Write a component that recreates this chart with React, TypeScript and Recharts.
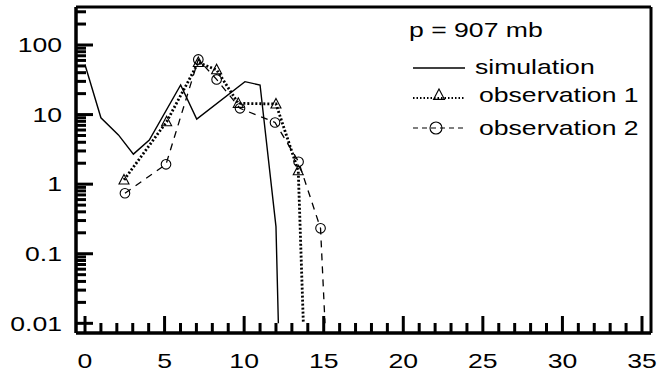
import React from 'react';
import { LineChart, Line, XAxis, YAxis, ReferenceLine } from 'recharts';

// simulation (solid line)
const simX = [0, 1.0, 2.1, 3.04, 4.04, 6.01, 7.02, 10.05, 11.0, 12.0, 12.15];
const simY = [52, 9.0, 5.1, 2.7, 4.3, 26.6, 8.6, 29.7, 26.6, 0.245, 0.01];

// observation 1 (dotted, triangles)
const obs1X = [2.45, 5.13, 7.12, 8.27, 9.63, 12.0, 13.4, 13.72];
const obs1Y = [1.15, 7.9, 56, 44, 14.5, 14.2, 1.56, 0.01];

// observation 2 (dashed, circles)
const obs2X = [2.51, 5.09, 7.12, 8.27, 9.74, 11.94, 13.42, 14.8, 15.08];
const obs2Y = [0.74, 1.93, 62, 32, 12.3, 7.7, 2.1, 0.232, 0.01];

const yMajor = [0.01, 0.1, 1, 10, 100];
const yMajorLabels = ['0.01', '0.1', '1', '10', '100'];
const xMajor = [0, 5, 10, 15, 20, 25, 30, 35];

const X_MIN = -0.566;
const X_MAX = 35.566;
const Y_MIN = 0.00726;
const Y_MAX = 351.6;

const toPts = (xs: number[], ys: number[]) => xs.map((x, i) => ({ x, y: ys[i] }));
const simData = toPts(simX, simY);
const obs1Data = toPts(obs1X, obs1Y);
const obs2Data = toPts(obs2X, obs2Y);

// log ticks 1..9 of each decade (200 is the only one above 100)
const yTicks: number[] = [];
yMajor.forEach((d) => {
  for (let m = 1; m <= 9; m++) {
    const v = +(m * d).toPrecision(3);
    if (v <= Y_MAX) yTicks.push(v);
  }
});
const xTicks = Array.from({ length: 36 }, (_, i) => i);

const FONT = 'Liberation Sans, Arial, sans-serif';
const SX = 1.33;

// the original's lettering is stretched sideways
const SText = ({ x, y, anchor, children }: any) => (
  <text
    transform={`translate(${x},${y}) scale(${SX},1)`}
    textAnchor={anchor}
    fontFamily={FONT}
    fontSize={20}
    fill="#000"
  >
    {children}
  </text>
);

const YTick = (props: any) => {
  const { x, y, payload } = props;
  const idx = yMajor.findIndex((v) => Math.abs(v - payload.value) < v * 1e-6);
  const major = idx >= 0;
  return (
    <g>
      <line x1={x} y1={y} x2={x + (major ? 17 : 10)} y2={y} stroke="#000" strokeWidth={3} />
      {major && (
        <SText x={x - 14} y={y + 7.3} anchor="end">
          {yMajorLabels[idx]}
        </SText>
      )}
    </g>
  );
};

const XTick = (props: any) => {
  const { x, y, payload } = props;
  const major = xMajor.includes(payload.value);
  return (
    <g>
      <line x1={x} y1={y} x2={x} y2={y - (major ? 17 : 10)} stroke="#000" strokeWidth={3} />
      {major && (
        <SText x={x} y={y + 34.5} anchor="middle">
          {String(payload.value)}
        </SText>
      )}
    </g>
  );
};

const triPath = (cx: number, cy: number, s: number) =>
  `M${cx},${cy - s * 1.1} L${cx + s},${cy + s * 0.8} L${cx - s},${cy + s * 0.8} Z`;

const TriDot = (props: any) => {
  const { cx, cy, index } = props;
  if (cx == null || cy == null || index === obs1X.length - 1) return <g key={`t${index}`} />;
  return <path key={`t${index}`} d={triPath(cx, cy, 5)} fill="none" stroke="#000" strokeWidth={1.1} />;
};

const CircDot = (props: any) => {
  const { cx, cy, index } = props;
  if (cx == null || cy == null || index === obs2X.length - 1) return <g key={`c${index}`} />;
  return <circle key={`c${index}`} cx={cx} cy={cy} r={4.8} fill="none" stroke="#000" strokeWidth={1.1} />;
};

const LegendBox = () => (
  <svg width={659} height={371} style={{ position: 'absolute', left: 0, top: 0, pointerEvents: 'none' }}>
    <SText x={409} y={37} anchor="start">p = 907 mb</SText>
    <line x1={413} y1={68} x2={465} y2={68} stroke="#000" strokeWidth={1.3} />
    <SText x={475} y={74} anchor="start">simulation</SText>
    <line x1={413} y1={98} x2={465} y2={98} stroke="#000" strokeWidth={2.2} strokeDasharray="1.5 2" />
    <path d={triPath(439, 95, 5.5)} fill="none" stroke="#000" strokeWidth={1.1} />
    <SText x={479} y={102} anchor="start">observation 1</SText>
    <line x1={413} y1={128} x2={465} y2={128} stroke="#000" strokeWidth={1.2} strokeDasharray="5 4" />
    <circle cx={436} cy={128} r={6} fill="none" stroke="#000" strokeWidth={1.1} />
    <SText x={479} y={135} anchor="start">observation 2</SText>
  </svg>
);

export default function App() {
  return (
    <div style={{ position: 'absolute', left: 0, top: 0, width: 659, height: 371, background: '#fff' }}>
      <LineChart width={659} height={371} margin={{ top: 7, right: 8, left: 0, bottom: 0 }}>
        <XAxis
          dataKey="x"
          type="number"
          domain={[X_MIN, X_MAX]}
          allowDataOverflow
          ticks={xTicks}
          interval={0}
          tickSize={0}
          tickMargin={0}
          tickLine={false}
          tick={<XTick />}
          height={38}
          axisLine={{ stroke: '#000', strokeWidth: 3.5 }}
        />
        <YAxis
          dataKey="y"
          type="number"
          scale="log"
          domain={[Y_MIN, Y_MAX]}
          allowDataOverflow
          ticks={yTicks}
          interval={0}
          tickSize={0}
          tickMargin={0}
          tickLine={false}
          tick={<YTick />}
          width={76}
          axisLine={{ stroke: '#000', strokeWidth: 3.5 }}
        />
        <ReferenceLine y={Y_MAX} stroke="#000" strokeWidth={3} />
        <ReferenceLine x={X_MAX} stroke="#000" strokeWidth={3} />
        <Line
          data={simData}
          dataKey="y"
          type="linear"
          stroke="#000"
          strokeWidth={1.4}
          dot={false}
          isAnimationActive={false}
        />
        <Line
          data={obs1Data}
          dataKey="y"
          type="linear"
          stroke="#000"
          strokeWidth={2.8}
          strokeDasharray="2 2"
          dot={TriDot}
          isAnimationActive={false}
        />
        <Line
          data={obs2Data}
          dataKey="y"
          type="linear"
          stroke="#000"
          strokeWidth={1.3}
          strokeDasharray="7 6"
          dot={CircDot}
          isAnimationActive={false}
        />
      </LineChart>
      <LegendBox />
    </div>
  );
}
